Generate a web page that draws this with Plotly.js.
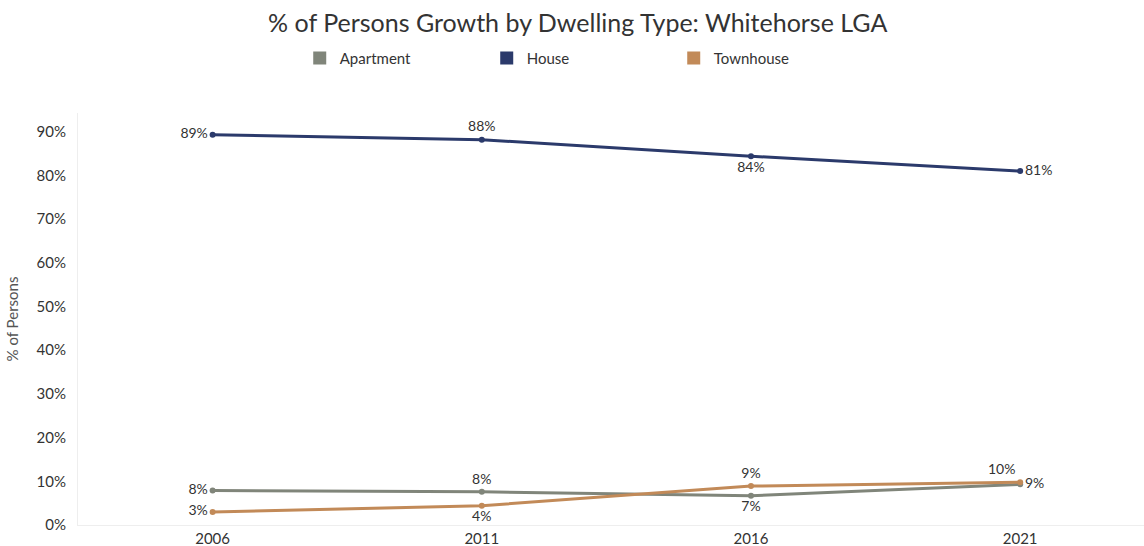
<!DOCTYPE html>
<html>
<head>
<meta charset="utf-8">
<script src="https://cdn.plot.ly/plotly-3.0.1.min.js"></script>
<style>html,body{margin:0;padding:0;background:#fff;}#chart{width:1144px;height:546px;}</style>
</head>
<body>
<div id="chart"></div>
<script>
const years = ['2006', '2011', '2016', '2021'];
const apartment = [7.9, 7.6, 6.7, 9.3];
const house = [89.3, 88.2, 84.4, 81.0];
const townhouse = [3.0, 4.4, 8.9, 9.8];
const seriesNames = ['Apartment', 'House', 'Townhouse'];
const yTicks = [0, 10, 20, 30, 40, 50, 60, 70, 80, 90];

const colors = ['#80857a', '#2b3a6b', '#c28a58'];
const positions = [
  ['middle left', 'top center', 'bottom center', 'middle right'],
  ['middle left', 'top center', 'bottom center', 'middle right'],
  ['middle left', 'bottom center', 'top center', 'top left']
];
const font = 'Lato, "Open Sans", sans-serif';
const allSeries = [apartment, house, townhouse];

const traces = [];
allSeries.forEach((vals, i) => {
  traces.push({
    x: years, y: vals, type: 'scatter', mode: 'lines+markers+text',
    name: seriesNames[i], showlegend: false,
    line: {color: colors[i], width: 3},
    marker: {color: colors[i], size: 6},
    text: vals.map(v => Math.round(v) + '%'),
    textposition: positions[i],
    textfont: {family: font, size: 14, color: '#333'},
    cliponaxis: false, hoverinfo: 'skip'
  });
});
seriesNames.forEach((n, i) => {
  traces.push({
    x: [null], y: [null], type: 'scatter', mode: 'markers', name: n,
    marker: {color: colors[i], size: 13, symbol: 'square'}, showlegend: true
  });
});

const layout = {
  width: 1144, height: 546,
  margin: {l: 78, r: 0, t: 113, b: 21},
  paper_bgcolor: '#fff', plot_bgcolor: '#fff',
  font: {family: font, color: '#333'},
  title: {text: '% of Persons Growth by Dwelling Type: Whitehorse LGA', x: 0.505, xanchor: 'center', y: 0.958, yanchor: 'middle', font: {family: font, size: 25, color: '#333'}},
  showlegend: true,
  legend: {orientation: 'h', x: 0.208, xanchor: 'left', y: 1.133, yanchor: 'middle', entrywidth: 142, entrywidthmode: 'pixels', font: {family: font, size: 15, color: '#333'}, itemwidth: 30, tracegroupgap: 0},
  xaxis: {type: 'category', range: [-0.5, 3.46], showgrid: false, zeroline: false, showline: true, linecolor: '#eeeeee', linewidth: 1, ticks: '', tickfont: {family: font, size: 15, color: '#333'}, fixedrange: true},
  yaxis: {range: [0, 94.3], tickvals: yTicks, ticktext: yTicks.map(t => t + '%'), showgrid: false, zeroline: false, showline: true, linecolor: '#eeeeee', linewidth: 1, ticks: '', ticklabelstandoff: 8, tickfont: {family: font, size: 15, color: '#333'}, title: {text: '% of Persons', standoff: 14, font: {family: font, size: 15, color: '#555'}}, fixedrange: true}
};
Plotly.newPlot('chart', traces, layout, {displayModeBar: false, staticPlot: true});
</script>
</body>
</html>
